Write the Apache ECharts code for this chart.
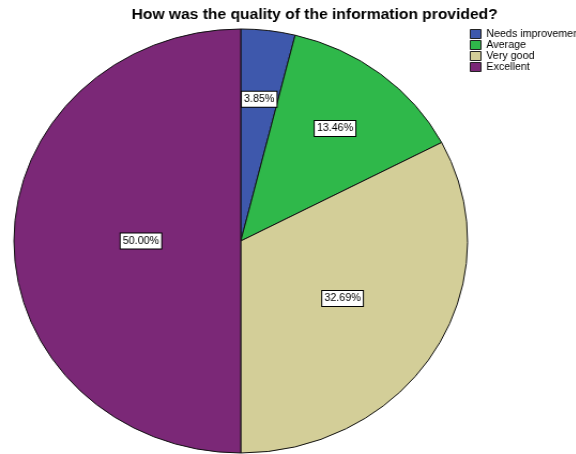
<!DOCTYPE html>
<html>
<head>
<meta charset="utf-8">
<script src="https://cdn.jsdelivr.net/npm/echarts@6/dist/echarts.min.js"></script>
<style>
  html, body { margin: 0; padding: 0; background: #fff; overflow: hidden; }
  /* the chart is laid out on a narrower canvas and stretched sideways */
  #chart { width: 539px; height: 454px; transform: scaleX(1.07); transform-origin: 0 0; }
</style>
</head>
<body>
<div id="chart"></div>
<script>
const titleText = 'How was the quality of the information provided?';
const categories = ['Needs improvement', 'Average', 'Very good', 'Excellent'];
const percents = [3.85, 13.46, 32.69, 50.00];
const sliceColors = ['#3e58ac', '#2fb84a', '#d3ce98', '#7b2877'];

// pie geometry (canvas units, before the sideways stretch)
const CX = 225, CY = 241, R = 212;
// how far out each label sits, relative to the default mid-radius spot
const labelPush = [1.31, 1.31, 1.02, 0.856];

const chart = echarts.init(document.getElementById('chart'), null, { renderer: 'canvas' });

chart.setOption({
  animation: false,
  title: {
    text: titleText,
    left: 123,
    top: 7,
    padding: 0,
    textStyle: { fontFamily: 'Arial', fontWeight: 'bold', fontSize: 14.6, color: '#000' }
  },
  legend: {
    orient: 'vertical',
    left: 439,
    top: 29,
    padding: 0,
    itemWidth: 10,
    itemHeight: 9,
    itemGap: 1,
    icon: 'rect',
    data: categories,
    itemStyle: { borderColor: '#222', borderWidth: 1 },
    textStyle: { fontFamily: 'Arial', fontSize: 10, lineHeight: 10, color: '#000', padding: 0 }
  },
  series: [{
    type: 'pie',
    center: [CX, CY],
    radius: R,
    startAngle: 90,
    clockwise: true,
    silent: true,
    data: categories.map((name, i) => ({
      name: name,
      value: percents[i],
      itemStyle: { color: sliceColors[i] }
    })),
    itemStyle: { borderColor: '#111', borderWidth: 1 },
    label: {
      show: true,
      position: 'inside',
      formatter: p => p.value.toFixed(2) + '%',
      fontFamily: 'Arial',
      fontSize: 10,
      lineHeight: 11,
      color: '#000',
      backgroundColor: '#fff',
      borderColor: '#000',
      borderWidth: 1,
      padding: [2, 2, 2, 2]
    },
    labelLine: { show: false },
    labelLayout: function (params) {
      const r = params.labelRect;
      const lx = r.x + r.width / 2;
      const ly = r.y + r.height / 2;
      const f = labelPush[params.dataIndex];
      return { dx: (lx - CX) * (f - 1), dy: (ly - CY) * (f - 1) };
    }
  }]
});
</script>
</body>
</html>
